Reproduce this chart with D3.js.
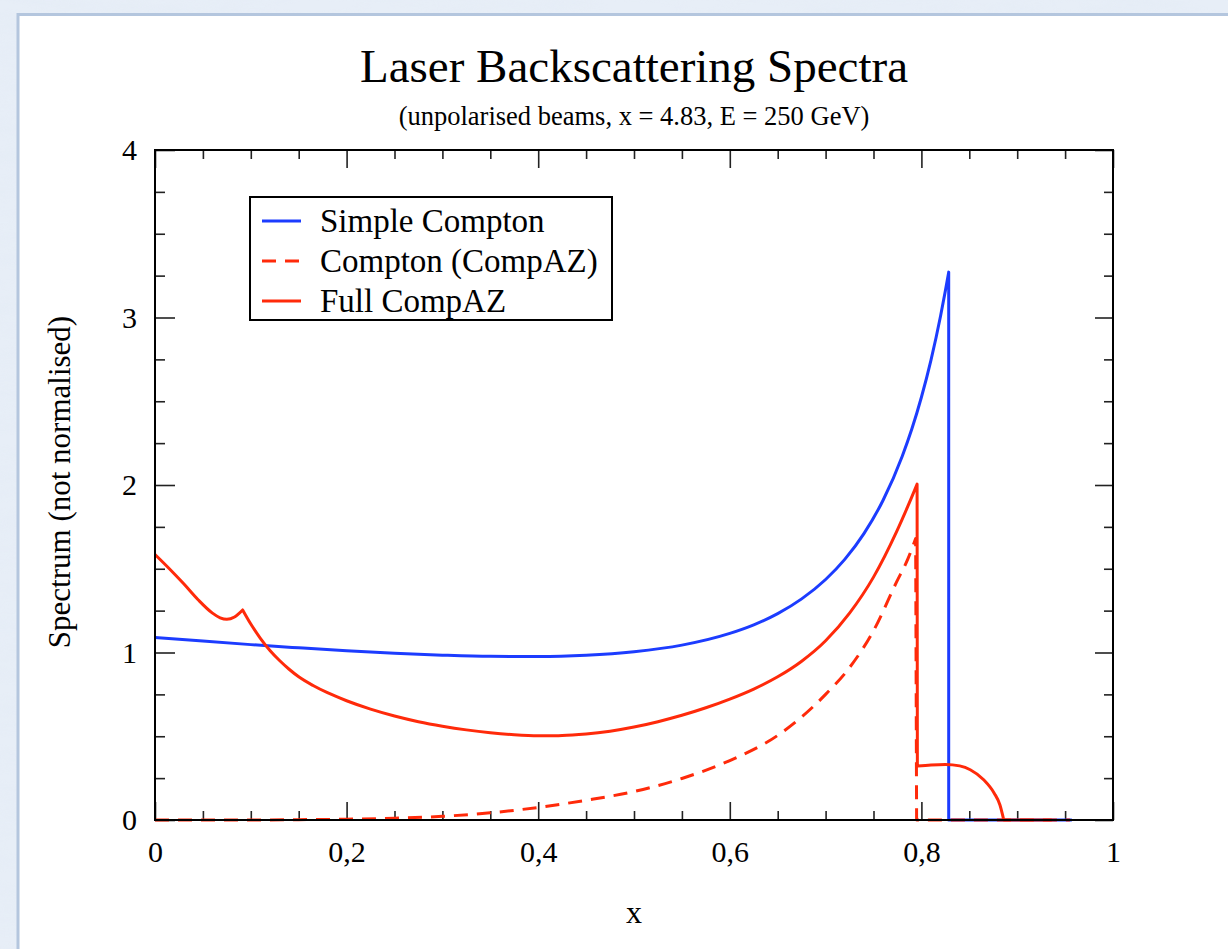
<!DOCTYPE html>
<html>
<head>
<meta charset="utf-8">
<script src="https://cdn.jsdelivr.net/npm/d3@7"></script>
<style>
  html, body { margin: 0; padding: 0; overflow: hidden; background: #e5ecf5; }
  svg { display: block; font-family: "Liberation Serif", "Times New Roman", serif; }
</style>
</head>
<body>
<svg id="chart" width="1228" height="949"></svg>
<script>
// ---- data: photon energy fraction x vs. spectrum value ----
// Simple Compton spectrum, up to the kinematic edge
const simpleCompton = [
  [0, 1.090], [0.05, 1.068], [0.1, 1.047], [0.15, 1.028], [0.2, 1.010],
  [0.25, 0.995], [0.3, 0.984], [0.35, 0.977], [0.4, 0.976], [0.45, 0.984],
  [0.5, 1.005], [0.55, 1.044], [0.6, 1.114], [0.625, 1.165], [0.65, 1.232],
  [0.675, 1.320], [0.7, 1.436], [0.72, 1.556], [0.74, 1.710], [0.76, 1.909],
  [0.78, 2.172], [0.79, 2.334], [0.8, 2.524], [0.81, 2.746], [0.82, 3.009],
  [0.825, 3.159], [0.8285, 3.271]
];
const simpleComptonEdge = [[0.8285, 3.271], [0.8285, 0], [0.957, 0]];

// Compton part of CompAZ
const comptonAZ = [
  [0, 0], [0.1, 0], [0.15, 0.002], [0.2, 0.005], [0.25, 0.011], [0.3, 0.022],
  [0.35, 0.043], [0.4, 0.075], [0.45, 0.118], [0.5, 0.17], [0.55, 0.248],
  [0.6, 0.355], [0.65, 0.505], [0.7, 0.75], [0.725, 0.91], [0.75, 1.13],
  [0.774, 1.42], [0.786, 1.56], [0.794, 1.68]
];
const comptonAZEdge = [[0.794, 1.68], [0.795, 0], [0.955, 0]];

// Full CompAZ spectrum, split at its kinks
const fullLow = [
  [0, 1.585], [0.015, 1.5], [0.03, 1.41], [0.045, 1.315], [0.06, 1.235],
  [0.068, 1.207], [0.075, 1.198], [0.083, 1.212], [0.0915, 1.254]
];
const fullMain = [
  [0.0915, 1.254], [0.1, 1.17], [0.11, 1.085], [0.12, 1.012], [0.13, 0.952],
  [0.14, 0.90], [0.15, 0.855], [0.165, 0.803], [0.18, 0.760], [0.2, 0.712],
  [0.225, 0.662], [0.25, 0.621], [0.275, 0.587], [0.3, 0.560], [0.325, 0.538],
  [0.35, 0.521], [0.375, 0.509], [0.4, 0.503], [0.425, 0.504], [0.45, 0.513],
  [0.475, 0.53], [0.5, 0.555], [0.525, 0.587], [0.55, 0.625], [0.575, 0.67],
  [0.6, 0.722], [0.625, 0.782], [0.65, 0.855], [0.675, 0.948], [0.7, 1.07],
  [0.725, 1.235], [0.75, 1.45], [0.774, 1.72], [0.786, 1.875], [0.7955, 2.005]
];
const fullDrop = [[0.7955, 2.005], [0.7958, 0.322]];
const fullHigh = [
  [0.7958, 0.322], [0.81, 0.329], [0.825, 0.332], [0.84, 0.323], [0.851, 0.30],
  [0.865, 0.24], [0.876, 0.16], [0.882, 0.09], [0.886, 0]
];
const fullTail = [[0.886, 0], [0.936, 0]];

// ---- axis ticks ----
const xMajorTicks = [0, 0.2, 0.4, 0.6, 0.8, 1];
const xMinorTicks = [0.05, 0.1, 0.15, 0.25, 0.3, 0.35, 0.45, 0.5, 0.55, 0.65, 0.7, 0.75, 0.85, 0.9, 0.95];
const xTickLabels = ["0", "0,2", "0,4", "0,6", "0,8", "1"];
const yMajorTicks = [0, 1, 2, 3, 4];
const yMinorTicks = [0.25, 0.5, 0.75, 1.25, 1.5, 1.75, 2.25, 2.5, 2.75, 3.25, 3.5, 3.75];
const yTickLabels = ["0", "1", "2", "3", "4"];

// ---- legend ----
const legendLabels = ["Simple Compton", "Compton (CompAZ)", "Full CompAZ"];

const BLUE = "#1c3cff";
const RED = "#ff2a0a";

const svg = d3.select("#chart");
const W = 1228, H = 949;

// page background with a faint marbled texture
const defs = svg.append("defs");
const marble = defs.append("filter").attr("id", "marble")
  .attr("x", 0).attr("y", 0).attr("width", "100%").attr("height", "100%");
marble.append("feTurbulence").attr("type", "fractalNoise")
  .attr("baseFrequency", "0.012 0.06").attr("numOctaves", 4).attr("seed", 7);
marble.append("feColorMatrix").attr("type", "matrix")
  .attr("values", "0 0 0 0 0.78  0 0 0 0 0.84  0 0 0 0 0.92  0 0 0 1.6 -0.55");
svg.append("rect").attr("width", W).attr("height", H).attr("fill", "#e7eef7");
svg.append("rect").attr("width", W).attr("height", H).attr("filter", "url(#marble)").attr("opacity", 0.8);

// white page panel
svg.append("rect")
  .attr("x", 18).attr("y", 14.5).attr("width", W + 20).attr("height", H + 20)
  .attr("fill", "#ffffff").attr("stroke", "#b4c6de").attr("stroke-width", 3);

const x = d3.scaleLinear().domain([0, 1]).range([155, 1113]);
const y = d3.scaleLinear().domain([0, 4]).range([820, 150]);

// ---- titles ----
svg.append("text").attr("x", 634).attr("y", 82)
  .attr("text-anchor", "middle").attr("font-size", 47)
  .text("Laser Backscattering Spectra");
svg.append("text").attr("x", 634).attr("y", 125)
  .attr("text-anchor", "middle").attr("font-size", 26.5)
  .text("(unpolarised beams, x = 4.83, E = 250 GeV)");

// ---- axes (ticks point inwards on all four sides) ----
const tickColor = "#222";
function styleAxis(g) {
  g.select(".domain").remove();
  g.selectAll(".tick line").attr("stroke", tickColor).attr("stroke-width", 1.6);
  g.selectAll(".tick text").attr("font-family", "Liberation Serif, serif").attr("font-size", 30).attr("fill", "#000");
}
const fmtX = d => xTickLabels[xMajorTicks.indexOf(d)];
const fmtY = d => yTickLabels[yMajorTicks.indexOf(d)];

// bottom
svg.append("g").attr("transform", "translate(0,820)")
  .call(d3.axisBottom(x).tickValues(xMinorTicks).tickSize(-9).tickFormat(""))
  .call(styleAxis);
svg.append("g").attr("transform", "translate(0,820)")
  .call(d3.axisBottom(x).tickValues(xMajorTicks).tickSize(-18).tickPadding(21).tickFormat(fmtX))
  .call(styleAxis);
// top
svg.append("g").attr("transform", "translate(0,150)")
  .call(d3.axisTop(x).tickValues(xMinorTicks).tickSize(-9).tickFormat(""))
  .call(styleAxis);
svg.append("g").attr("transform", "translate(0,150)")
  .call(d3.axisTop(x).tickValues(xMajorTicks).tickSize(-18).tickFormat(""))
  .call(styleAxis);
// left
svg.append("g").attr("transform", "translate(155,0)")
  .call(d3.axisLeft(y).tickValues(yMinorTicks).tickSize(-10).tickFormat(""))
  .call(styleAxis);
svg.append("g").attr("transform", "translate(155,0)")
  .call(d3.axisLeft(y).tickValues(yMajorTicks).tickSize(-20).tickPadding(18).tickFormat(fmtY))
  .call(styleAxis);
// right
svg.append("g").attr("transform", "translate(1113,0)")
  .call(d3.axisRight(y).tickValues(yMinorTicks).tickSize(-9).tickFormat(""))
  .call(styleAxis);
svg.append("g").attr("transform", "translate(1113,0)")
  .call(d3.axisRight(y).tickValues(yMajorTicks).tickSize(-18).tickFormat(""))
  .call(styleAxis);

// axis titles
svg.append("text").attr("x", 634).attr("y", 923)
  .attr("text-anchor", "middle").attr("font-size", 32).text("x");
svg.append("text")
  .attr("transform", "translate(70,482) rotate(-90)")
  .attr("text-anchor", "middle").attr("font-size", 31)
  .text("Spectrum (not normalised)");

// ---- curves ----
const smoothLine = d3.line().x(d => x(d[0])).y(d => y(d[1])).curve(d3.curveMonotoneX);
const straightLine = d3.line().x(d => x(d[0])).y(d => y(d[1]));
function joinPieces(pieces) {
  return pieces.map((p, i) => {
    const s = (p.smooth ? smoothLine : straightLine)(p.pts);
    return i ? s.replace(/^M/, "L") : s;
  }).join("");
}

const plot = svg.append("g").attr("fill", "none").attr("stroke-linejoin", "round");

plot.append("path")
  .attr("d", joinPieces([{ pts: simpleCompton, smooth: true }, { pts: simpleComptonEdge, smooth: false }]))
  .attr("stroke", BLUE).attr("stroke-width", 3);

plot.append("path")
  .attr("d", joinPieces([{ pts: comptonAZ, smooth: true }, { pts: comptonAZEdge, smooth: false }]))
  .attr("stroke", RED).attr("stroke-width", 3).attr("stroke-dasharray", "14,9");

plot.append("path")
  .attr("d", joinPieces([
    { pts: fullLow, smooth: true }, { pts: fullMain, smooth: true },
    { pts: fullDrop, smooth: false }, { pts: fullHigh, smooth: true },
    { pts: fullTail, smooth: false }
  ]))
  .attr("stroke", RED).attr("stroke-width", 3);

// plot frame
svg.append("rect")
  .attr("x", x(0)).attr("y", y(4))
  .attr("width", x(1) - x(0)).attr("height", y(0) - y(4))
  .attr("fill", "none").attr("stroke", "#000").attr("stroke-width", 2);

// ---- legend ----
const legend = svg.append("g");
legend.append("rect").attr("x", 250).attr("y", 197).attr("width", 362).attr("height", 123)
  .attr("fill", "#fff").attr("stroke", "#000").attr("stroke-width", 2);
const legendStyles = [
  { color: BLUE, dash: null },
  { color: RED, dash: "14,9" },
  { color: RED, dash: null }
];
legendLabels.forEach((label, i) => {
  const cy = 221 + i * 40;
  legend.append("line").attr("x1", 262).attr("x2", 301).attr("y1", cy).attr("y2", cy)
    .attr("stroke", legendStyles[i].color).attr("stroke-width", 3)
    .attr("stroke-dasharray", legendStyles[i].dash);
  legend.append("text").attr("x", 320).attr("y", cy + 11).attr("font-size", 33).text(label);
});
</script>
</body>
</html>
